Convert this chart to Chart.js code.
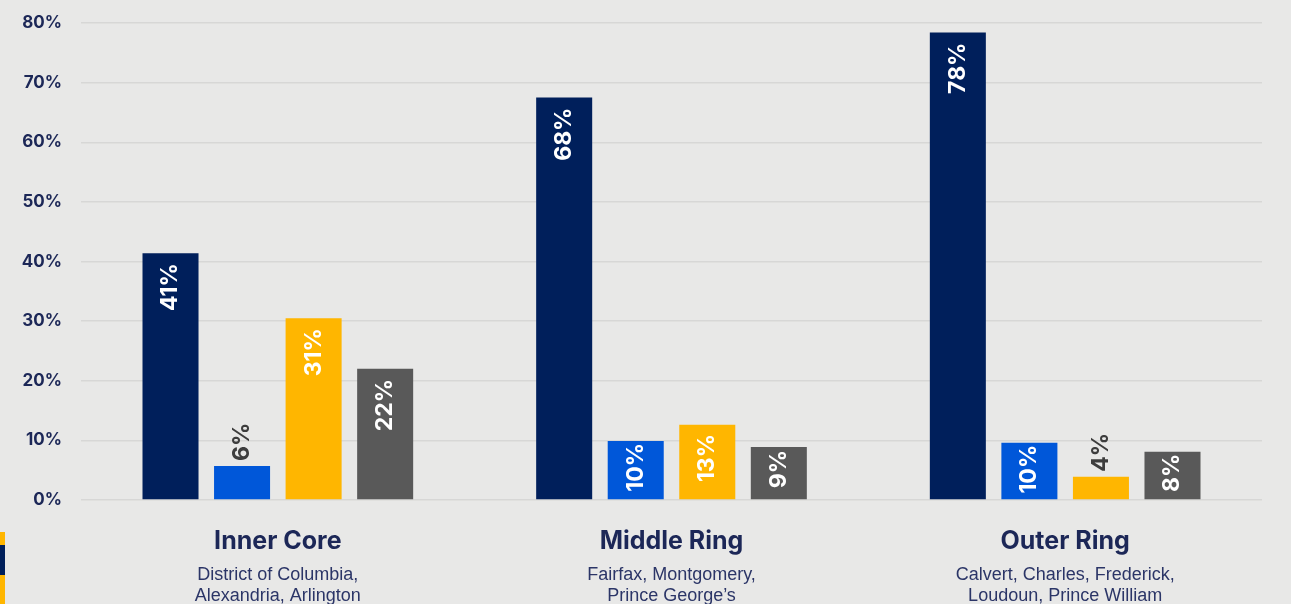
<!DOCTYPE html>
<html>
<head>
<meta charset="utf-8">
<script src="https://cdn.jsdelivr.net/npm/chart.js@4"></script>
<style>
  html, body { margin: 0; padding: 0; background: #e8e8e7; }
  #wrap { position: relative; width: 1291px; height: 604px; overflow: hidden; }
  #strip { position: absolute; left: 0; top: 532px; width: 5px; height: 72px;
           background: linear-gradient(#ffb600 0 13px, #001f5b 13px 43px, #ffb600 43px); }
</style>
</head>
<body>
<div id="wrap">
  <canvas id="chart" width="1291" height="604"></canvas>
  <div id="strip"></div>
</div>
<script>
const regions = ['Inner Core', 'Middle Ring', 'Outer Ring'];
const regionCounties = [
  ['District of Columbia,', 'Alexandria, Arlington'],
  ['Fairfax, Montgomery,', 'Prince George\u2019s'],
  ['Calvert, Charles, Frederick,', 'Loudoun, Prince William']
];
const seriesA = [41.4, 67.5, 78.4];
const seriesB = [5.7, 9.9, 9.6];
const seriesC = [30.5, 12.6, 3.9];
const seriesD = [22, 8.9, 8.1];
const colors = ['#001f5b', '#0057d9', '#ffb600', '#595959'];

const navy = '#1c2757';

// rotated value labels, inside the bar when they fit, above it otherwise
const barLabels = {
  id: 'barLabels',
  afterDatasetsDraw(chart) {
    const ctx = chart.ctx;
    ctx.save();
    ctx.font = 'bold 23px Inter';
    ctx.textBaseline = 'middle';
    chart.data.datasets.forEach((ds, di) => {
      chart.getDatasetMeta(di).data.forEach((bar, i) => {
        const text = Math.round(ds.data[i]) + '%';
        const tw = ctx.measureText(text).width;
        const h = bar.base - bar.y;
        ctx.save();
        ctx.translate(bar.x, bar.y);
        ctx.rotate(-Math.PI / 2);
        if (h > tw + 6) {
          const pad = Math.min(10, Math.max(2, (h - tw) / 2 - 4));
          ctx.fillStyle = '#ffffff';
          ctx.textAlign = 'right';
          ctx.fillText(text, -pad, 0);
        } else {
          ctx.fillStyle = '#3d3d3d';
          ctx.textAlign = 'left';
          ctx.fillText(text, 5, 0);
        }
        ctx.restore();
      });
    });
    ctx.restore();
  }
};

// category name and counties under each group
const categoryLabels = {
  id: 'categoryLabels',
  afterDraw(chart) {
    const ctx = chart.ctx;
    const x = chart.scales.x;
    ctx.save();
    ctx.textAlign = 'center';
    ctx.textBaseline = 'middle';
    regions.forEach((r, i) => {
      const cx = x.getPixelForTick(i);
      ctx.fillStyle = navy;
      ctx.font = 'bold 25px Inter';
      ctx.fillText(r, cx, 541);
      ctx.fillStyle = '#2b3567';
      ctx.font = '18px "Liberation Sans"';
      regionCounties[i].forEach((line, j) => ctx.fillText(line, cx, 575 + j * 21));
    });
    ctx.restore();
  }
};

new Chart(document.getElementById('chart'), {
  type: 'bar',
  data: {
    labels: regions,
    datasets: [seriesA, seriesB, seriesC, seriesD].map((d, i) => ({
      data: d,
      backgroundColor: colors[i],
      borderWidth: 0,
      categoryPercentage: 0.727,
      barPercentage: 0.783
    }))
  },
  options: {
    responsive: false,
    animation: false,
    layout: { padding: { top: 23, right: 29, left: 0, bottom: 0 } },
    plugins: { legend: { display: false }, tooltip: { enabled: false } },
    scales: {
      x: {
        grid: { display: false },
        border: { display: false },
        ticks: { display: false },
        afterFit(scale) { scale.height = 104; }
      },
      y: {
        min: 0,
        max: 80,
        ticks: {
          stepSize: 10,
          padding: 19,
          color: navy,
          font: { family: 'Inter', size: 17, weight: 'bold' },
          callback: v => v + '%'
        },
        grid: { color: '#d7d7d6', lineWidth: 1.5, drawTicks: false, tickLength: 0 },
        border: { display: false },
        afterFit(scale) {
          scale.width = 81;
          scale.paddingTop = 0;
          scale.paddingBottom = 0;
        }
      }
    }
  },
  plugins: [barLabels, categoryLabels]
});
</script>
</body>
</html>
